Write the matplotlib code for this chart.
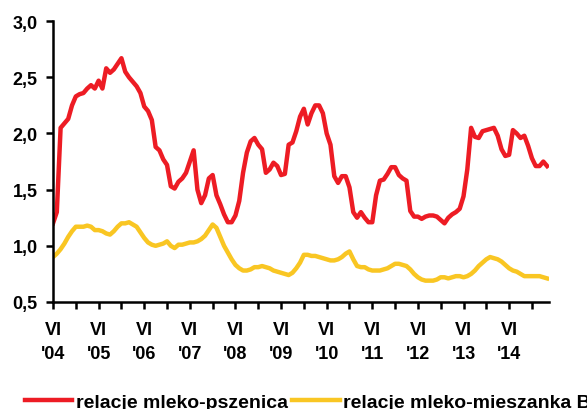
import matplotlib.pyplot as plt
import numpy as np

# monthly data, June 2004 .. ~Oct 2015
pszenica = [1.20, 1.30, 2.05, 2.09, 2.13, 2.25, 2.33, 2.35, 2.36, 2.40,
            2.43, 2.40, 2.47, 2.40, 2.58, 2.54, 2.57, 2.62, 2.67, 2.55,
            2.50, 2.46, 2.42, 2.36, 2.24, 2.20, 2.12, 1.88, 1.85, 1.77,
            1.72, 1.53, 1.51, 1.57, 1.60, 1.65, 1.75, 1.85, 1.50, 1.38,
            1.45, 1.60, 1.63, 1.45, 1.37, 1.28, 1.21, 1.21, 1.27, 1.40,
            1.65, 1.83, 1.93, 1.96, 1.90, 1.86, 1.65, 1.68, 1.74, 1.71,
            1.63, 1.64, 1.90, 1.92, 2.02, 2.15, 2.22, 2.08, 2.18, 2.25,
            2.25, 2.18, 2.00, 1.90, 1.62, 1.56, 1.62, 1.62, 1.52, 1.30,
            1.25, 1.30, 1.25, 1.21, 1.21, 1.45, 1.58, 1.59, 1.64, 1.70,
            1.70, 1.63, 1.60, 1.58, 1.31, 1.26, 1.26, 1.24, 1.26, 1.27,
            1.27, 1.26, 1.23, 1.20, 1.25, 1.28, 1.30, 1.33, 1.44, 1.68,
            2.05, 1.97, 1.96, 2.02, 2.03, 2.04, 2.05, 1.98, 1.86, 1.80,
            1.81, 2.03, 2.00, 1.96, 1.98, 1.89, 1.78, 1.71, 1.71, 1.75,
            1.71]
mieszanka = [0.90, 0.93, 0.97, 1.02, 1.08, 1.13, 1.17, 1.17, 1.17, 1.18,
             1.17, 1.14, 1.14, 1.13, 1.11, 1.10, 1.13, 1.17, 1.20, 1.20,
             1.21, 1.19, 1.17, 1.12, 1.07, 1.03, 1.01, 1.00, 1.01, 1.02,
             1.04, 1.00, 0.98, 1.01, 1.01, 1.02, 1.03, 1.03, 1.04, 1.06,
             1.09, 1.14, 1.19, 1.16, 1.08, 1.00, 0.94, 0.88, 0.83, 0.80,
             0.78, 0.78, 0.79, 0.81, 0.81, 0.82, 0.81, 0.80, 0.78, 0.77,
             0.76, 0.75, 0.74, 0.76, 0.80, 0.85, 0.92, 0.92, 0.91, 0.91,
             0.90, 0.89, 0.88, 0.87, 0.87, 0.88, 0.90, 0.93, 0.95, 0.88,
             0.82, 0.81, 0.81, 0.79, 0.78, 0.78, 0.78, 0.79, 0.80, 0.82,
             0.84, 0.84, 0.83, 0.82, 0.79, 0.75, 0.72, 0.70, 0.69, 0.69,
             0.69, 0.70, 0.72, 0.72, 0.71, 0.72, 0.73, 0.73, 0.72, 0.73,
             0.75, 0.78, 0.82, 0.85, 0.88, 0.90, 0.89, 0.88, 0.86, 0.83,
             0.80, 0.78, 0.77, 0.75, 0.73, 0.73, 0.73, 0.73, 0.73, 0.72,
             0.71]
years = ["'04", "'05", "'06", "'07", "'08", "'09", "'10", "'11", "'12", "'13", "'14"]

plt.rcParams['font.family'] = ['Liberation Sans', 'DejaVu Sans']
plt.rcParams['font.weight'] = 'bold'

fig = plt.figure(figsize=(5.87, 4.10), dpi=100)
ax = fig.add_axes([0.0903, 0.261, 0.845, 0.685])

x = np.arange(len(pszenica))
ax.plot(x, pszenica, color='#ED1C24', lw=3.2, label='relacje mleko-pszenica', solid_joinstyle='round')
ax.plot(x, mieszanka, color='#F9C623', lw=3.2, label='relacje mleko-mieszanka B', solid_joinstyle='round')

ax.set_xlim(0, 130.5)
ax.set_ylim(0.5, 3.0)
ax.set_yticks([0.5, 1.0, 1.5, 2.0, 2.5, 3.0])
ax.set_yticklabels(['0,5', '1,0', '1,5', '2,0', '2,5', '3,0'], fontsize=13, fontweight='bold')
ax.set_xticks(np.arange(0, 131, 6))
ax.set_xticklabels(['VI\n' + years[i // 2] if i % 2 == 0 else '' for i in range(22)],
                   fontsize=13, fontweight='bold', linespacing=1.5)

for s in ['top', 'right']:
    ax.spines[s].set_visible(False)
for s in ['left', 'bottom']:
    ax.spines[s].set_linewidth(1.8)
ax.tick_params(axis='both', direction='out', length=5, width=1.8, pad=6)
ax.tick_params(axis='x', pad=9)

fig.legend(loc='center left', bbox_to_anchor=(0.012, 0.016), ncol=2, frameon=False,
           prop={'size': 14, 'weight': 'bold'}, handlelength=2.45, handletextpad=0.2,
           columnspacing=0.2)

fig.savefig('out.png', dpi=100)
